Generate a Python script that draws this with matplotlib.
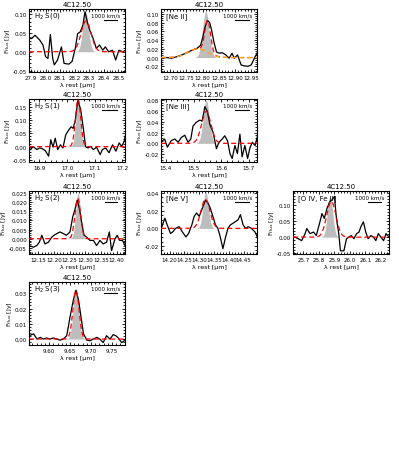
import numpy as np
import matplotlib
matplotlib.use('Agg')
import matplotlib.pyplot as plt
from matplotlib.ticker import AutoMinorLocator, FormatStrFormatter, MultipleLocator

plt.rcParams['font.family'] = ['DejaVu Sans']
plt.rcParams['font.size'] = 4

TITLE = '4C12.50'
C_KMS = 299792.458

# H2 S(0)
s0_wave = [27.888, 27.904, 27.927, 27.960, 27.982, 28.000, 28.016, 28.033, 28.049, 28.060,
           28.082, 28.109, 28.127, 28.160, 28.182, 28.204, 28.220, 28.238, 28.256, 28.271,
           28.287, 28.304, 28.327, 28.349, 28.371, 28.393, 28.411, 28.433, 28.460, 28.482,
           28.504, 28.530, 28.546]
s0_flux = [0.036, 0.035, 0.044, 0.031, 0.018, -0.013, -0.018, 0.046, -0.018, -0.035,
           -0.022, 0.013, -0.031, -0.033, -0.026, 0.009, 0.048, 0.053, 0.070, 0.107,
           0.079, 0.057, 0.035, 0.009, 0.018, 0.004, 0.013, 0.000, 0.004, -0.022,
           0.004, 0.000, 0.003]
s0_fit = (28.278, 0.082, 0.034)      # centre, peak, sigma
s0_res = (28.275, 0.105, 0.020)

# [Ne II]
neii_wave = [12.672, 12.690, 12.705, 12.721, 12.736, 12.752, 12.768, 12.783, 12.794, 12.801,
             12.807, 12.815, 12.822, 12.828, 12.835, 12.843, 12.851, 12.861, 12.872, 12.882,
             12.891, 12.898, 12.908, 12.919, 12.929, 12.940, 12.950, 12.960, 12.968]
neii_flux = [0.000, 0.000, -0.0015, 0.002, 0.006, 0.011, 0.017, 0.021, 0.028, 0.047,
             0.068, 0.085, 0.080, 0.063, 0.036, 0.013, 0.010, 0.011, 0.006, -0.0015,
             0.010, -0.0015, 0.006, -0.017, -0.019, -0.020, -0.017, -0.0015, 0.010]
neii_fit = (12.816, 0.073, 0.009)
neii_broad = (12.785, 0.020, 0.030)
neii_res = (12.810, 0.106, 0.010)

# H2 S(1)
s1_wave = [16.866, 16.878, 16.890, 16.900, 16.909, 16.921, 16.933, 16.941, 16.949, 16.957,
           16.966, 16.976, 16.985, 16.995, 17.006, 17.015, 17.022, 17.030, 17.039, 17.049,
           17.059, 17.067, 17.076, 17.085, 17.095, 17.107, 17.120, 17.128, 17.140, 17.152,
           17.165, 17.177, 17.189, 17.198, 17.207, 17.213]
s1_flux = [-0.011, 0.000, -0.011, -0.005, -0.007, -0.015, -0.036, 0.026, -0.002, 0.032,
           -0.011, 0.007, -0.005, 0.044, 0.063, 0.075, 0.069, 0.100, 0.174, 0.142,
           0.069, 0.000, -0.005, 0.001, -0.011, -0.002, -0.030, -0.011, -0.005, -0.023,
           0.007, -0.017, 0.014, 0.001, 0.020, 0.050]
s1_fit = (17.040, 0.178, 0.0095)
s1_res = (17.040, 0.170, 0.0085)

# [Ne III]
neiii_wave = [15.383, 15.395, 15.405, 15.419, 15.432, 15.444, 15.456, 15.468, 15.480, 15.490,
              15.498, 15.510, 15.523, 15.531, 15.541, 15.550, 15.559, 15.571, 15.583, 15.592,
              15.604, 15.613, 15.623, 15.632, 15.640, 15.650, 15.659, 15.668, 15.676, 15.686,
              15.696, 15.704, 15.713, 15.723, 15.732]
neiii_flux = [0.003, 0.008, -0.007, 0.005, 0.008, 0.002, 0.011, 0.015, 0.002, 0.008,
              0.032, 0.039, 0.043, 0.041, 0.068, 0.059, 0.035, 0.020, -0.010, 0.002,
              0.008, 0.014, 0.005, -0.019, -0.028, -0.004, -0.019, 0.017, -0.025, -0.004,
              -0.028, -0.009, 0.002, -0.004, 0.014]
neiii_fit = (15.546, 0.059, 0.017)
neiii_res = (15.546, 0.080, 0.011)

# H2 S(2)
s2_wave = [12.121, 12.134, 12.145, 12.153, 12.161, 12.171, 12.182, 12.193, 12.200, 12.209,
           12.219, 12.230, 12.240, 12.251, 12.260, 12.267, 12.274, 12.281, 12.288, 12.296,
           12.304, 12.315, 12.326, 12.336, 12.347, 12.357, 12.368, 12.377, 12.384, 12.395,
           12.402, 12.410, 12.419, 12.427]
s2_flux = [-0.0037, -0.0046, -0.0037, -0.0019, 0.0019, -0.0028, -0.0019, 0.0009, 0.0019, 0.0028,
           0.0037, 0.0028, 0.0019, 0.0037, 0.0120, 0.0160, 0.0210, 0.0167, 0.0093, 0.0019,
           0.0009, -0.0009, -0.0009, -0.0037, -0.0009, -0.0028, -0.0019, 0.0037, -0.0065, 0.0000,
           0.0019, -0.0009, -0.0009, -0.0037]
s2_fit = (12.276, 0.0218, 0.009)
s2_res = (12.277, 0.0250, 0.0075)

# [Ne V]
nev_wave = [14.172, 14.184, 14.192, 14.203, 14.211, 14.220, 14.232, 14.243, 14.255, 14.264,
            14.275, 14.283, 14.291, 14.300, 14.309, 14.321, 14.329, 14.337, 14.346, 14.355,
            14.363, 14.371, 14.380, 14.389, 14.397, 14.405, 14.414, 14.423, 14.431, 14.439,
            14.448, 14.457, 14.465, 14.476, 14.488, 14.496]
nev_flux = [0.000, 0.0116, 0.0039, -0.0058, -0.0039, 0.000, 0.0019, -0.0039, -0.0097, -0.0058,
            0.0039, 0.0136, 0.0174, 0.0136, 0.0213, 0.0320, 0.0290, 0.0233, 0.0136, 0.0039,
            0.000, -0.0097, -0.0230, -0.0097, 0.000, 0.0039, 0.0058, 0.0078, 0.0097, 0.0155,
            0.0039, 0.000, 0.0019, 0.000, -0.0039, -0.0097]
nev_fit = (14.321, 0.033, 0.015)
nev_res = (14.322, 0.041, 0.009)

# [O IV, Fe II]
oiv_wave = [25.636, 25.646, 25.667, 25.689, 25.711, 25.722, 25.743, 25.765, 25.783, 25.804,
            25.820, 25.835, 25.852, 25.870, 25.885, 25.900, 25.913, 25.928, 25.939, 25.961,
            25.978, 25.993, 26.009, 26.026, 26.043, 26.059, 26.070, 26.087, 26.102, 26.117,
            26.135, 26.152, 26.167, 26.183, 26.200, 26.217, 26.233, 26.252]
oiv_flux = [0.000, 0.000, -0.005, -0.011, 0.011, 0.027, 0.011, 0.016, 0.005, 0.043,
            0.074, 0.059, 0.090, 0.112, 0.117, 0.128, 0.059, 0.011, -0.043, -0.043,
            -0.005, 0.000, 0.005, -0.005, 0.011, 0.016, 0.032, 0.048, 0.016, -0.005,
            0.005, 0.000, -0.011, 0.011, 0.000, -0.011, 0.011, 0.000]
oiv_fit = (25.880, 0.112, 0.030)
oiv_res = (25.872, 0.130, 0.017)

# H2 S(3)
s3_wave = [9.553, 9.563, 9.571, 9.579, 9.586, 9.594, 9.602, 9.610, 9.618, 9.626,
           9.634, 9.642, 9.650, 9.658, 9.664, 9.670, 9.676, 9.682, 9.690, 9.698,
           9.705, 9.714, 9.721, 9.729, 9.737, 9.745, 9.753, 9.759, 9.765, 9.773, 9.780]
s3_flux = [0.0022, 0.0034, 0.0000, 0.0011, 0.0000, 0.0007, 0.0000, 0.0007, 0.0000, -0.0007,
           0.0000, 0.0022, 0.0146, 0.0259, 0.0320, 0.0259, 0.0146, 0.0034, -0.0007, -0.0011,
           0.0000, 0.0011, 0.0000, -0.0023, 0.0022, 0.0000, 0.0029, 0.0022, 0.0007, -0.0023, -0.0010]
s3_fit = (9.664, 0.032, 0.0072)
s3_res = (9.664, 0.033, 0.0065)

line_names = ['H$_2$ S(0)', '[Ne II]', 'H$_2$ S(1)', '[Ne III]',
              'H$_2$ S(2)', '[Ne V]', '[O IV, Fe II]', 'H$_2$ S(3)']


def gauss(x, p):
    c, a, s = p
    return a * np.exp(-0.5 * ((x - c) / s) ** 2)


# name, wave, flux, fit, res, broad, xlim, ylim, xstep, ystep, xfmt, yfmt, row, col
panels = [
    (line_names[0], s0_wave, s0_flux, s0_fit, s0_res, None,
     (27.886, 28.546), (-0.054, 0.114), 0.1, 0.05, '%.1f', '%.2f', 0, 0),
    (line_names[1], neii_wave, neii_flux, neii_fit, neii_res, neii_broad,
     (12.672, 12.968), (-0.033, 0.111), 0.05, 0.02, '%.2f', '%.2f', 0, 1),
    (line_names[2], s1_wave, s1_flux, s1_fit, s1_res, None,
     (16.862, 17.210), (-0.058, 0.180), 0.1, 0.05, '%.1f', '%.2f', 1, 0),
    (line_names[3], neiii_wave, neiii_flux, neiii_fit, neiii_res, None,
     (15.382, 15.730), (-0.0345, 0.082), 0.1, 0.02, '%.1f', '%.2f', 1, 1),
    (line_names[4], s2_wave, s2_flux, s2_fit, s2_res, None,
     (12.120, 12.427), (-0.0083, 0.026), 0.05, 0.005, '%.2f', '%.3f', 2, 0),
    (line_names[5], nev_wave, nev_flux, nev_fit, nev_res, None,
     (14.171, 14.495), (-0.029, 0.0423), 0.05, 0.02, '%.2f', '%.2f', 2, 1),
    (line_names[6], oiv_wave, oiv_flux, oiv_fit, oiv_res, None,
     (25.633, 26.252), (-0.053, 0.145), 0.1, 0.05, '%.1f', '%.2f', 2, 2),
    (line_names[7], s3_wave, s3_flux, s3_fit, s3_res, None,
     (9.552, 9.781), (-0.0039, 0.0374), 0.05, 0.01, '%.2f', '%.2f', 3, 0),
]

W, H = 399, 460
col_left = [29, 161, 293]
row_top = [10, 100, 192, 283]
ax_w, ax_h = 96, 63

fig = plt.figure(figsize=(W / 100, H / 100), dpi=100)

for (name, wave, flux, fit, res, broad, xlim, ylim, xstep, ystep,
     xfmt, yfmt, row, col) in panels:
    ax = fig.add_axes([col_left[col] / W, 1 - (row_top[row] + ax_h) / H,
                       ax_w / W, ax_h / H])
    xx = np.linspace(xlim[0], xlim[1], 400)

    ax.fill_between(xx, 0, gauss(xx, res), color='#bdbdbd', lw=0, zorder=1)
    ax.plot(wave, flux, color='black', lw=0.9, zorder=2)
    model = gauss(xx, fit)
    if broad is not None:
        model = model + gauss(xx, broad)
    ax.plot(xx, model, color='red', lw=0.9, ls=(0, (4, 2.5)), zorder=3)
    if broad is not None:
        ax.plot(xx, gauss(xx, broad), color='orange', lw=0.9, ls=(0, (4, 2.5)), zorder=4)

    ax.set_xlim(xlim)
    ax.set_ylim(ylim)
    ax.xaxis.set_major_locator(MultipleLocator(xstep))
    ax.yaxis.set_major_locator(MultipleLocator(ystep))
    ax.xaxis.set_major_formatter(FormatStrFormatter(xfmt))
    ax.yaxis.set_major_formatter(FormatStrFormatter(yfmt))
    ax.xaxis.set_minor_locator(AutoMinorLocator())
    ax.yaxis.set_minor_locator(AutoMinorLocator())
    ax.tick_params(which='both', direction='in', top=True, right=True,
                   labelsize=4, pad=2, width=0.6)
    ax.tick_params(axis='y', which='both', pad=1.5)
    ax.tick_params(which='major', length=2.5)
    ax.tick_params(which='minor', length=1.2)
    for sp in ax.spines.values():
        sp.set_linewidth(0.8)

    ax.set_title(TITLE, fontsize=5, pad=2)
    ax.set_xlabel('λ rest [μm]', fontsize=4.5, labelpad=1.5)
    ax.set_ylabel('F$_{\\rm flux}$ [Jy]', fontsize=4.5, labelpad=0.5)

    ax.text(0.05, 0.90, name, transform=ax.transAxes, fontsize=5,
            ha='left', va='center')
    ax.text(0.955, 0.90, '1000 km/s', transform=ax.transAxes, fontsize=4,
            ha='right', va='center')
    bar = fit[0] * 1000 / C_KMS
    x_end = xlim[0] + 0.92 * (xlim[1] - xlim[0])
    ax.plot([x_end - bar, x_end], [0.83, 0.83], color='black', lw=0.8,
            transform=ax.get_xaxis_transform())

fig.savefig('out.png', dpi=100)
plt.close(fig)
